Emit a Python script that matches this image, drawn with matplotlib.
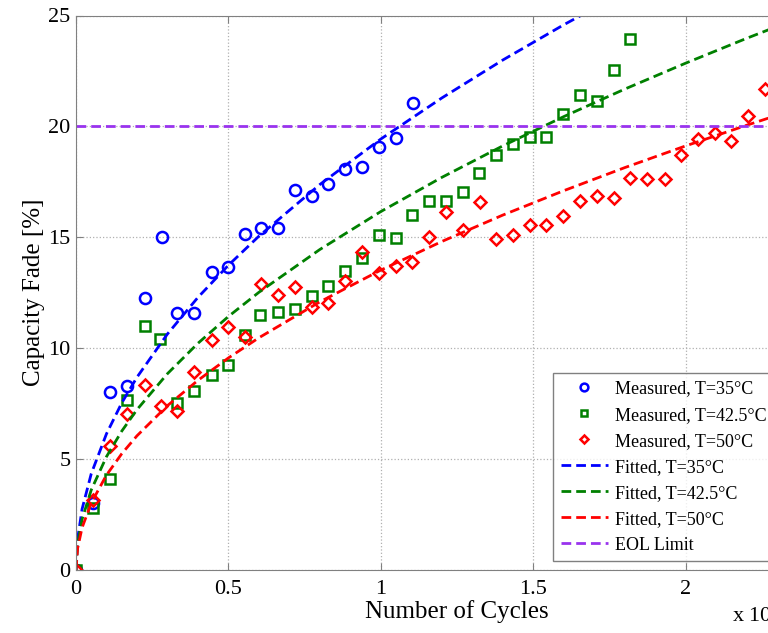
import matplotlib
matplotlib.use("Agg")
from matplotlib import pyplot as plt

# Measured capacity fade (x in units of 1e4 cycles)
x_35 = [0, 0.055, 0.111, 0.166, 0.226, 0.281, 0.332, 0.387, 0.445, 0.499, 0.554,
        0.607, 0.663, 0.72, 0.775, 0.828, 0.884, 0.939, 0.994, 1.049, 1.106]
y_35 = [0, 3.0, 8.04, 8.3, 12.25, 15.03, 11.6, 11.6, 13.45, 13.67, 15.13,
        15.4, 15.4, 17.12, 16.86, 17.39, 18.07, 18.16, 19.07, 19.49, 21.04]

x_425 = [0, 0.057, 0.111, 0.166, 0.226, 0.275, 0.332, 0.387, 0.445, 0.499, 0.554,
         0.603, 0.663, 0.72, 0.775, 0.828, 0.884, 0.939, 0.994, 1.049, 1.104,
         1.158, 1.213, 1.27, 1.322, 1.377, 1.434, 1.489, 1.543, 1.598, 1.652,
         1.71, 1.764, 1.819]
y_425 = [0, 2.78, 4.1, 7.66, 11.02, 10.4, 7.54, 8.08, 8.79, 9.24, 10.6,
         11.5, 11.62, 11.75, 12.37, 12.8, 13.5, 14.08, 15.1, 14.98, 16.0,
         16.62, 16.62, 17.03, 17.91, 18.7, 19.22, 19.54, 19.54, 20.56, 21.43,
         21.13, 22.54, 23.93]

x_50 = [0, 0.057, 0.111, 0.166, 0.226, 0.279, 0.332, 0.387, 0.445, 0.499, 0.554,
        0.607, 0.663, 0.72, 0.775, 0.828, 0.884, 0.939, 0.994, 1.049, 1.104,
        1.158, 1.213, 1.27, 1.325, 1.379, 1.434, 1.49, 1.543, 1.598, 1.652,
        1.71, 1.764, 1.819, 1.873, 1.931, 1.986, 2.04, 2.095, 2.15, 2.204, 2.259]
y_50 = [0, 3.15, 5.59, 7.03, 8.34, 7.39, 7.18, 8.91, 10.37, 10.94, 10.52,
        12.89, 12.4, 12.77, 11.87, 12.05, 13.03, 14.35, 13.4, 13.72, 13.87,
        15.03, 16.13, 15.33, 16.6, 14.92, 15.12, 15.55, 15.55, 15.97, 16.62,
        16.85, 16.76, 17.69, 17.65, 17.62, 18.73, 19.42, 19.69, 19.34, 20.47, 21.67]

# Fitted curves
xf = [0, 0.005, 0.02, 0.05, 0.1, 0.15, 0.2, 0.3, 0.4, 0.5, 0.6, 0.8, 1.0,
      1.2, 1.4, 1.6, 1.8, 2.0, 2.2, 2.4, 2.5]
yf_35 = [0, 1.37, 2.75, 4.34, 6.14, 7.53, 8.69, 10.64, 12.29, 13.74, 15.05, 17.38, 19.43,
         21.28, 22.99, 24.58, 26.07, 27.48, 28.82, 30.1, 30.72]
yf_425 = [0, 1.14, 2.29, 3.61, 5.11, 6.26, 7.23, 8.85, 10.22, 11.43, 12.52, 14.45, 16.16,
          17.70, 19.12, 20.44, 21.68, 22.85, 23.97, 25.04, 25.55]
yf_50 = [0, 0.96, 1.91, 3.02, 4.28, 5.24, 6.05, 7.41, 8.55, 9.56, 10.47, 12.09, 13.52,
         14.81, 16.0, 17.1, 18.14, 19.12, 20.05, 20.95, 21.38]

eol_limit = 20

plt.rcParams["font.family"] = ["Liberation Serif", "DejaVu Serif"]
plt.rcParams["mathtext.fontset"] = "stix"

fig = plt.figure(figsize=(7.68, 6.33), dpi=100)
# the axes run to 2.5 on x, past the right edge of the picture (cropped like the original)
ax = fig.add_axes([76 / 768, 63 / 633, 762 / 768, 554.5 / 633])

blue, green, red, purple = "#0000ff", "#008000", "#ff0000", "#9933ee"
mk = dict(linestyle="none", markersize=8, markeredgewidth=1.8, markerfacecolor="none")
ln = dict(linestyle="--", linewidth=2, dashes=(3.5, 1.8))

ax.plot(x_35, y_35, marker="o", markeredgecolor=blue, label="Measured, T=35°C", **mk)
ax.plot(x_425, y_425, marker="s", markeredgecolor=green, label="Measured, T=42.5°C",
        **{**mk, "markersize": 7})
ax.plot(x_50, y_50, marker="D", markeredgecolor=red, label="Measured, T=50°C",
        **{**mk, "markersize": 6})
ax.plot(xf, yf_35, color=blue, label="Fitted, T=35°C", **ln)
ax.plot(xf, yf_425, color=green, label="Fitted, T=42.5°C", **ln)
ax.plot(xf, yf_50, color=red, label="Fitted, T=50°C", **ln)
ax.axhline(eol_limit, color=purple, label="EOL Limit", **ln)

ax.set_xlim(0, 2.5)
ax.set_ylim(0, 25)
ax.set_xticks([0, 0.5, 1, 1.5, 2])
ax.set_xticklabels(["0", "0.5", "1", "1.5", "2"])
ax.set_yticks([0, 5, 10, 15, 20, 25])
ax.tick_params(direction="in", top=True, right=True, labelsize=16, color="#808080",
               length=5)
ax.tick_params(axis="x", pad=7)
ax.tick_params(axis="y", pad=4)
for s in ax.spines.values():
    s.set_color("#808080")
ax.grid(True, linestyle=":", color="#b0b0b0", linewidth=0.9)
ax.set_axisbelow(True)

ax.set_xlabel("Number of Cycles", fontsize=18, labelpad=1)
ax.set_ylabel("Capacity Fade [%]", fontsize=18, labelpad=2)
fig.text(732 / 768, 6 / 633, r"x 10$^{4}$", fontsize=16, va="bottom", ha="left")

leg = ax.legend(loc="upper left", bbox_to_anchor=(553 / 768, 1 - 373 / 633),
                bbox_transform=fig.transFigure, fontsize=13, frameon=True,
                fancybox=False, edgecolor="#606060", handlelength=2.6,
                labelspacing=0.5, borderpad=0.42, handletextpad=0.4,
                borderaxespad=0, markerscale=0.7)
leg.get_frame().set_linewidth(1)

fig.savefig("out.png", dpi=100)
